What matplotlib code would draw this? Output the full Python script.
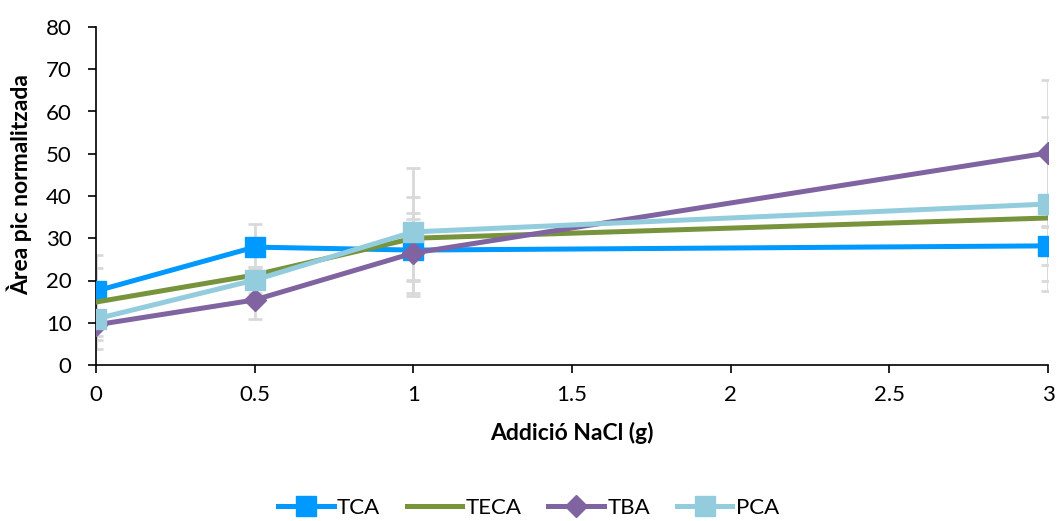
import numpy as np
import matplotlib.pyplot as plt

plt.rcParams['font.family'] = ['Lato', 'DejaVu Sans']

nacl = [0, 0.5, 1, 3]
tca = [17.5, 27.9, 27.2, 28.2]
teca = [14.9, 21.3, 30.0, 34.8]
tba = [9.5, 15.4, 26.5, 50.2]
pca = [10.9, 20.1, 31.5, 38.1]
tca_err = [8.5, 5.5, 7.4, 4.5]
teca_err = [8.0, 2.0, 9.8, 15.0]
tba_err = [5.7, 4.5, 9.5, 17.3]
pca_err = [5.0, 3.0, 15.2, 20.5]

fig = plt.figure(figsize=(10.57, 5.21), dpi=100)
ax = fig.add_axes([96/1057, 1-365/521, (1048-96)/1057, (365-27)/521])

series = [
    ('TCA', tca, tca_err, '#0099FF', 's', 14.5),
    ('TECA', teca, teca_err, '#77933C', None, 0),
    ('TBA', tba, tba_err, '#8064A2', 'D', 11),
    ('PCA', pca, pca_err, '#93CDDD', 's', 14.5),
]

for name, vals, err, col, mk, ms in series:
    ax.errorbar(nacl, vals, yerr=err, fmt='none', ecolor='#D9D9D9',
                elinewidth=2, capsize=5, capthick=2, zorder=1)
for name, vals, err, col, mk, ms in series:
    ax.plot(nacl, vals, color=col, lw=3.6, marker=mk, markersize=ms,
            label=name, zorder=3)

ax.set_xlim(0, 3)
ax.set_ylim(0, 80)
ax.set_xticks([0, 0.5, 1, 1.5, 2, 2.5, 3])
ax.set_xticklabels(['0', '0.5', '1', '1.5', '2', '2.5', '3'])
ax.set_yticks(np.arange(0, 81, 10))
ax.tick_params(labelsize=16, length=5.5, width=1.2, direction='out')
ax.tick_params(axis='y', pad=12)
ax.tick_params(axis='x', pad=9)
ax.spines['top'].set_visible(False)
ax.spines['right'].set_visible(False)
ax.spines['left'].set_linewidth(1.2)
ax.spines['bottom'].set_linewidth(1.2)
ax.set_xlabel('Addició NaCl (g)', fontsize=16.5, fontweight='bold', labelpad=12)
ax.set_ylabel('Àrea pic normalitzada', fontsize=16.5, fontweight='bold')
ax.yaxis.set_label_coords(-0.067, 0.533)

fig.legend(loc='center', ncol=4, frameon=False, fontsize=16,
           bbox_to_anchor=(0.5, 1-508/521), handlelength=2.5,
           handletextpad=0.15, columnspacing=1.2)

fig.savefig('out.png', dpi=100)
